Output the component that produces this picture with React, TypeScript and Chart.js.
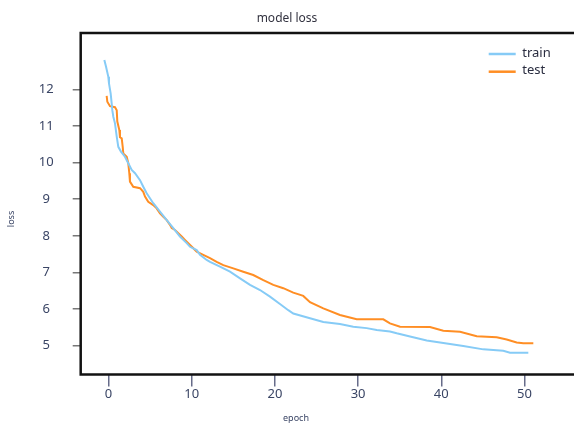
import React, { useEffect, useRef } from 'react';
import { Chart, registerables } from 'chart.js';

Chart.register(...registerables);

const trainEpochs = [-0.5, -0.3, -0.02, 0.06, 0.26, 0.38, 0.46, 0.58, 0.78, 0.99, 1.18, 1.5, 1.98, 2.38, 2.79, 3.19, 3.79, 4.18, 4.59, 5.38, 6.19, 7.0, 7.79, 8.59, 9.4, 9.8, 10.6, 11.0, 11.8, 12.2, 13.4, 14.6, 15.81, 17.01, 18.21, 19.41, 20.61, 21.61, 22.21, 24.22, 25.82, 27.82, 29.42, 31.03, 32.24, 33.83, 34.64, 36.24, 38.25, 40.65, 42.64, 45.05, 47.45, 48.26, 50.46];
const trainLoss = [12.8, 12.62, 12.34, 12.16, 11.89, 11.62, 11.43, 11.25, 11.07, 10.71, 10.43, 10.3, 10.16, 9.98, 9.8, 9.71, 9.52, 9.34, 9.16, 8.89, 8.66, 8.43, 8.21, 7.98, 7.8, 7.7, 7.61, 7.48, 7.34, 7.29, 7.16, 7.02, 6.84, 6.66, 6.52, 6.34, 6.14, 5.97, 5.88, 5.75, 5.65, 5.59, 5.52, 5.48, 5.43, 5.39, 5.34, 5.25, 5.14, 5.06, 4.99, 4.9, 4.86, 4.81, 4.81];

const testEpochs = [-0.22, -0.14, 0.18, 0.78, 0.99, 1.06, 1.3, 1.38, 1.59, 1.71, 1.78, 2.19, 2.38, 2.5, 2.58, 2.98, 3.79, 4.18, 4.39, 4.78, 5.38, 5.79, 6.19, 6.59, 7.0, 7.39, 7.6, 7.99, 8.39, 8.8, 9.19, 9.8, 10.6, 11.39, 12.2, 13.0, 13.8, 15.0, 16.2, 17.4, 18.61, 19.81, 21.01, 22.21, 23.41, 24.22, 25.82, 27.82, 29.83, 33.03, 33.83, 35.04, 38.64, 40.24, 42.25, 44.26, 46.66, 47.86, 49.06, 49.86, 51.06];
const testLoss = [11.82, 11.66, 11.54, 11.51, 11.43, 11.12, 10.89, 10.69, 10.66, 10.43, 10.25, 10.16, 9.98, 9.71, 9.48, 9.34, 9.3, 9.2, 9.07, 8.93, 8.84, 8.75, 8.61, 8.52, 8.43, 8.3, 8.21, 8.16, 8.07, 7.98, 7.89, 7.75, 7.57, 7.48, 7.39, 7.29, 7.2, 7.11, 7.02, 6.93, 6.79, 6.66, 6.57, 6.45, 6.36, 6.19, 6.02, 5.84, 5.72, 5.72, 5.61, 5.52, 5.51, 5.41, 5.38, 5.26, 5.23, 5.17, 5.09, 5.07, 5.07];

const xTicks = [0, 10, 20, 30, 40, 50];
const yTicks = [5, 6, 7, 8, 9, 10, 11, 12];
const seriesLabels = ['train', 'test'];
const seriesColors = ['#86cbf6', '#ff8e24'];
const chartTitle = 'model loss';
const xTitle = 'epoch';
const yTitle = 'loss';

const FONT = "'Noto Sans', 'Open Sans', sans-serif";

const extrasPlugin = {
  id: 'extras',
  afterDatasetsDraw(chart: any) {
    const { ctx, chartArea } = chart;
    const { left, top, bottom } = chartArea;
    const right = chart.width;
    ctx.save();
    // frame (left, top, bottom)
    ctx.strokeStyle = '#121212';
    ctx.lineWidth = 2.5;
    ctx.beginPath();
    ctx.moveTo(right, top);
    ctx.lineTo(left, top);
    ctx.lineTo(left, bottom);
    ctx.lineTo(right, bottom);
    ctx.stroke();

    // legend
    chart.data.datasets.forEach((ds: any, i: number) => {
      const y = top + 21 + i * 17.7;
      ctx.strokeStyle = ds.borderColor;
      ctx.lineWidth = 2.5;
      ctx.beginPath();
      ctx.moveTo(left + 408, y);
      ctx.lineTo(left + 435, y);
      ctx.stroke();
      ctx.fillStyle = '#2a2d40';
      ctx.font = `13px ${FONT}`;
      ctx.textAlign = 'left';
      ctx.textBaseline = 'middle';
      ctx.fillText(ds.label, left + 441.5, y - 1);
    });

    // axis titles
    ctx.fillStyle = '#3a4565';
    ctx.font = `9px ${FONT}`;
    ctx.textAlign = 'center';
    ctx.textBaseline = 'middle';
    ctx.fillText(xTitle, 296, chart.height - 5);
    ctx.translate(11, 219);
    ctx.rotate(-Math.PI / 2);
    ctx.fillText(yTitle, 0, 0);
    ctx.restore();
  },
};

export default function App() {
  const ref = useRef<HTMLCanvasElement | null>(null);

  useEffect(() => {
    if (!ref.current) return;
    const chart = new Chart(ref.current, {
      type: 'line',
      data: {
        datasets: [
          {
            label: seriesLabels[0],
            data: trainEpochs.map((x, i) => ({ x, y: trainLoss[i] })),
            borderColor: seriesColors[0],
            backgroundColor: seriesColors[0],
            borderWidth: 2,
            pointRadius: 0,
            tension: 0,
          },
          {
            label: seriesLabels[1],
            data: testEpochs.map((x, i) => ({ x, y: testLoss[i] })),
            borderColor: seriesColors[1],
            backgroundColor: seriesColors[1],
            borderWidth: 2,
            pointRadius: 0,
            tension: 0,
          },
        ],
      },
      options: {
        animation: false,
        responsive: false,
        devicePixelRatio: 1,
        layout: { padding: 0 },
        plugins: {
          legend: { display: false },
          tooltip: { enabled: false },
          title: {
            display: true,
            text: chartTitle,
            color: '#333340',
            font: { family: FONT, size: 12, weight: 'normal' },
            padding: { top: 11.5, bottom: 7.1 },
          },
        },
        scales: {
          x: {
            type: 'linear',
            min: -3.34,
            max: 55.95,
            afterBuildTicks: (s: any) => {
              s.ticks = xTicks.map((v) => ({ value: v }));
            },
            afterFit: (s: any) => {
              s.height = 48.5;
            },
            border: { display: false },
            grid: {
              drawOnChartArea: false,
              drawTicks: true,
              tickLength: 12,
              color: '#676c8a',
              lineWidth: 1.5,
            },
            ticks: {
              color: '#3a4565',
              font: { family: FONT, size: 13 },
              padding: 0,
              maxRotation: 0,
              autoSkip: false,
            },
          },
          y: {
            type: 'linear',
            min: 4.214,
            max: 13.537,
            afterBuildTicks: (s: any) => {
              s.ticks = yTicks.map((v) => ({ value: v }));
            },
            afterFit: (s: any) => {
              s.width = 80.7;
            },
            border: { display: false },
            grid: {
              drawOnChartArea: false,
              drawTicks: true,
              tickLength: 8,
              color: '#777777',
              lineWidth: 1.5,
            },
            ticks: {
              color: '#3a4565',
              font: { family: FONT, size: 13 },
              padding: 19,
              crossAlign: 'center',
              autoSkip: false,
            },
          },
        },
      },
      plugins: [extrasPlugin],
    } as any);
    return () => chart.destroy();
  }, []);

  return (
    <div style={{ position: 'fixed', left: 0, top: 0, width: 574, height: 423, background: '#fff' }}>
      <canvas ref={ref} width={574} height={423} style={{ display: 'block' }} />
    </div>
  );
}
